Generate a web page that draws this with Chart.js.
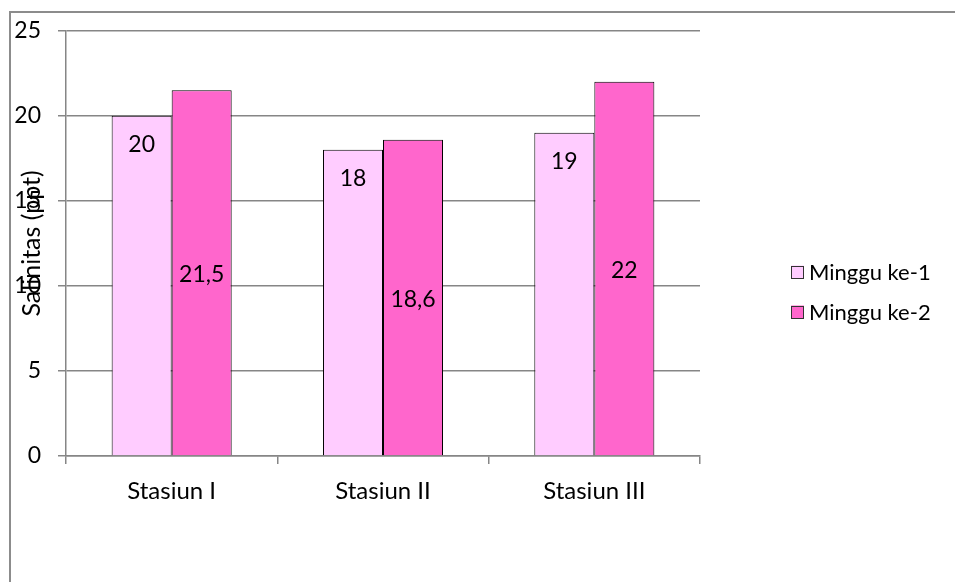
<!DOCTYPE html>
<html>
<head>
<meta charset="utf-8">
<title>Salinitas</title>
<script src="https://cdn.jsdelivr.net/npm/chart.js@4/dist/chart.umd.min.js"></script>
<style>
	html, body { margin: 0; padding: 0; background: #ffffff; overflow: hidden; }
	#chart-box { position: relative; width: 955px; height: 582px; }
	#chart-frame { position: absolute; left: 9px; top: 11px; width: 960px; height: 600px; border-left: 2px solid #8c8c8c; border-top: 2px solid #8c8c8c; }
	canvas { position: absolute; left: 0; top: 0; }
</style>
</head>
<body>
<div id="chart-box">
	<div id="chart-frame"></div>
	<canvas id="salinity-chart" width="955" height="582"></canvas>
</div>
<script>
var stations = ["Stasiun I", "Stasiun II", "Stasiun III"];
var week1 = [20, 18, 19];
var week2 = [21.5, 18.6, 22];
var seriesNames = ["Minggu ke-1", "Minggu ke-2"];
var yTickValues = [0, 5, 10, 15, 20, 25];
var axisTitle = "Salinitas (ppt)";

var fontFamily = "Lato, 'Open Sans', sans-serif";
var fontSize = 22;
var gridColor = "#868686";

function formatValue(value) {
	return String(value).replace(".", ",");
}

// value labels: first series near the top of the bar, second in the middle
var barLabels = {
	id: "barLabels",
	afterDatasetsDraw: function(chart) {
		var ctx = chart.ctx;
		ctx.save();
		ctx.font = "23px " + fontFamily;
		ctx.fillStyle = "#000000";
		ctx.textAlign = "center";
		ctx.textBaseline = "middle";
		chart.data.datasets.forEach(function(dataset, i) {
			chart.getDatasetMeta(i).data.forEach(function(bar, j) {
				var y = i === 0 ? bar.y + 29 : (bar.y + bar.base) / 2 + 2;
				ctx.fillText(formatValue(dataset.data[j]), bar.x, y);
			});
		});
		ctx.restore();
	}
};

// rotated y axis title, laid over the tick labels
var yTitle = {
	id: "yTitle",
	afterDraw: function(chart) {
		var ctx = chart.ctx;
		var area = chart.chartArea;
		ctx.save();
		ctx.translate(32, (area.top + area.bottom) / 2);
		ctx.rotate(-Math.PI / 2);
		ctx.font = "25px " + fontFamily;
		ctx.fillStyle = "#000000";
		ctx.textAlign = "center";
		ctx.textBaseline = "middle";
		ctx.fillText(axisTitle, 0, 0);
		ctx.restore();
	}
};

// legend on the right, boxes in the series colours
var sideLegend = {
	id: "sideLegend",
	afterDraw: function(chart) {
		var ctx = chart.ctx;
		var area = chart.chartArea;
		var boxSize = 13;
		var left = area.right + 91;
		var top = 272;
		ctx.save();
		ctx.font = fontSize + "px " + fontFamily;
		ctx.textBaseline = "middle";
		chart.data.datasets.forEach(function(dataset, i) {
			var y = top + i * 40;
			ctx.fillStyle = dataset.backgroundColor;
			ctx.fillRect(left, y - boxSize / 2, boxSize, boxSize);
			ctx.strokeStyle = "#333333";
			ctx.lineWidth = 1;
			ctx.strokeRect(left + 0.5, Math.round(y - boxSize / 2) + 0.5, boxSize - 1, boxSize - 1);
			ctx.fillStyle = "#000000";
			ctx.fillText(dataset.label, left + boxSize + 5, y + 1);
		});
		ctx.restore();
	}
};

function initialiseChart() {
	var canvas = document.getElementById("salinity-chart");
	var chartData = {
		labels: stations,
		datasets: [
		{
			label: seriesNames[0],
			data: week1,
			backgroundColor: "#FFCCFF",
			borderColor: "#000000",
			borderWidth: 1
		},
		{
			label: seriesNames[1],
			data: week2,
			backgroundColor: "#FF66CC",
			borderColor: "#000000",
			borderWidth: 1
		}]
	};
	new Chart(canvas, {
		type: "bar",
		data: chartData,
		options: {
			responsive: false,
			animation: false,
			events: [],
			layout: {
				padding: { left: 0, top: 28, right: 255, bottom: 76 }
			},
			datasets: {
				bar: { categoryPercentage: 0.568, barPercentage: 1 }
			},
			plugins: {
				legend: { display: false },
				tooltip: { enabled: false }
			},
			scales: {
				x: {
					grid: { drawOnChartArea: false, drawTicks: true, tickLength: 8, color: gridColor, lineWidth: 1.5 },
					border: { display: true, color: gridColor, width: 1.5 },
					ticks: { color: "#000000", padding: 13, font: { family: fontFamily, size: 24 } },
					afterFit: function(scale) { scale.height = 50; }
				},
				y: {
					min: 0,
					max: 25,
					afterBuildTicks: function(scale) {
						scale.ticks = yTickValues.map(function(v) { return { value: v }; });
					},
					grid: { color: gridColor, lineWidth: 1.5, tickLength: 8 },
					border: { display: true, color: gridColor, width: 1.5 },
					ticks: { color: "#000000", padding: 17, font: { family: fontFamily, size: 23 } },
					afterFit: function(scale) { scale.width = 66; }
				}
			}
		},
		plugins: [barLabels, yTitle, sideLegend]
	});
}

initialiseChart();
</script>
</body>
</html>
